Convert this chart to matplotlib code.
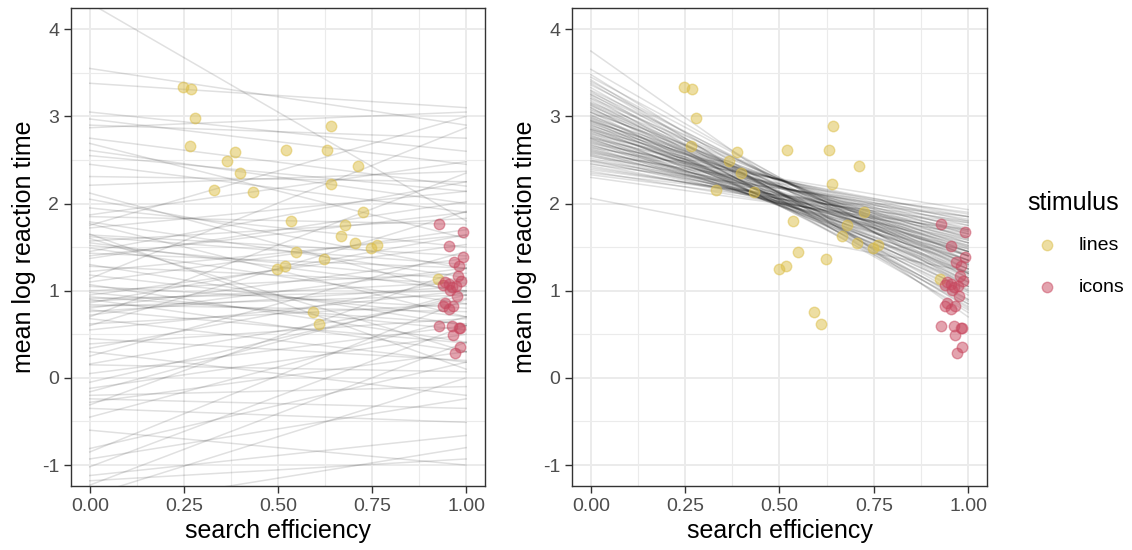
import matplotlib.pyplot as plt
from matplotlib.lines import Line2D

plt.rcParams['font.family'] = ['Liberation Sans', 'DejaVu Sans']

# observed data: search efficiency vs mean log RT
lines_eff = [0.247, 0.269, 0.280, 0.265, 0.365, 0.387, 0.399, 0.331, 0.433, 0.521,
             0.631, 0.642, 0.640, 0.712, 0.725, 0.535, 0.678, 0.667, 0.705, 0.762,
             0.747, 0.549, 0.623, 0.518, 0.498, 0.592, 0.609, 0.926]
lines_rt = [3.34, 3.31, 2.98, 2.66, 2.49, 2.59, 2.35, 2.15, 2.13, 2.61,
            2.61, 2.89, 2.22, 2.43, 1.90, 1.80, 1.75, 1.63, 1.55, 1.53,
            1.49, 1.44, 1.36, 1.28, 1.25, 0.76, 0.62, 1.14]
icons_eff = [0.928, 0.992, 0.954, 0.992, 0.967, 0.981, 0.978, 0.987, 0.945, 0.954,
             0.938, 0.963, 0.972, 0.958, 0.976, 0.944, 0.938, 0.966, 0.954, 0.928,
             0.963, 0.985, 0.981, 0.965, 0.985, 0.970]
icons_rt = [1.76, 1.67, 1.51, 1.39, 1.33, 1.28, 1.17, 1.11, 1.10, 1.08,
            1.07, 1.04, 1.05, 1.01, 0.94, 0.86, 0.82, 0.83, 0.79, 0.60,
            0.59, 0.57, 0.57, 0.49, 0.36, 0.29]

# prior draws: value at efficiency 0 and at efficiency 1
prior_start = [4.30, 3.55, 3.38, 2.97, 2.90, 2.87, 2.69, 2.61, 2.31, 2.21,
               2.12, 1.87, 1.79, 1.77, 1.72, 1.64, 1.60, 1.57, 1.49, 1.43,
               1.37, 1.30, 1.22, 1.14, 1.07, 0.95, 0.91, 0.88, 0.84, 0.80,
               0.76, 0.68, 0.60, 0.39, 0.34, 0.16, 0.15, -0.12, -0.16, -0.24,
               -0.28, -0.31, -0.35, -0.81, -0.93, -1.02, -1.12, -1.18, -1.23, -1.35,
               1.85, 1.55, 1.45, 1.05, 1.00, 0.98, 0.86, 0.82, 0.78, 0.72,
               0.62, 2.55, 2.45, 1.95, 1.65, 1.28, 1.18, 0.45, 0.25, -0.05,
               -0.20, -0.45, -0.60, -0.85, 3.05, 2.75, 1.75, 0.70, 1.10, 0.90,
               1.40, 0.55, 2.05, 1.52, 0.30, 0.05, -1.50, 1.62, 0.93]
prior_end = [1.80, 2.90, 3.10, 2.45, 2.75, 3.05, 1.60, 2.00, 2.25, 2.37,
             0.95, 2.48, 1.15, 0.70, 2.14, 1.40, 0.30, 1.83, 0.85, 1.26,
             2.02, 0.60, 1.64, 2.87, 0.41, 1.53, 1.00, 1.10, 0.76, 1.37,
             1.05, 0.18, 1.91, 0.68, 1.14, 0.91, 0.07, 0.50, 0.99, -0.35,
             0.30, 1.26, -0.51, 0.18, -0.24, 0.60, -0.66, -0.93, 0.41, 0.00,
             1.76, 1.00, 2.25, 0.80, 1.20, 0.55, 1.64, 0.95, 0.40, 1.26,
             0.85, 2.14, 1.90, 1.50, 0.10, 1.08, 0.70, 0.20, 1.45, 0.95,
             -0.10, 0.70, -1.00, 0.90, 2.60, 2.20, 3.00, 2.35, 1.70, 0.30,
             1.90, 1.00, 1.25, 1.12, -0.20, 0.60, -0.80, 1.30, 0.62]

# posterior draws
post_start = [3.75, 3.54, 3.48, 3.45, 3.42, 3.40, 3.38, 3.36, 3.33, 3.30,
              3.29, 3.27, 3.25, 3.23, 3.21, 3.20, 3.18, 3.16, 3.14, 3.13,
              3.12, 3.10, 3.08, 3.07, 3.05, 3.04, 3.02, 3.01, 3.00, 2.99,
              2.98, 2.97, 2.96, 2.95, 2.94, 2.93, 2.92, 2.91, 2.90, 2.89,
              2.88, 2.87, 2.86, 2.85, 2.84, 2.83, 2.82, 2.81, 2.80, 2.79,
              2.78, 2.77, 2.76, 2.75, 2.74, 2.73, 2.72, 2.71, 2.70, 2.69,
              2.68, 2.67, 2.66, 2.65, 2.64, 2.63, 2.62, 2.61, 2.60, 2.59,
              2.58, 2.57, 2.56, 2.55, 2.54, 2.52, 2.50, 2.49, 2.48, 2.46,
              2.45, 2.43, 2.41, 2.39, 2.37, 2.35, 2.33, 2.30, 2.06, 3.05,
              2.95, 3.15, 2.85, 3.10, 2.75, 3.25]
post_end = [0.70, 1.05, 0.80, 1.15, 0.75, 1.10, 0.85, 1.20, 0.90, 1.25,
            0.82, 1.30, 1.00, 0.78, 1.35, 1.05, 0.88, 1.40, 1.10, 0.95,
            1.30, 1.00, 1.45, 1.20, 0.90, 1.50, 1.05, 1.35, 1.25, 0.98,
            1.55, 1.12, 1.40, 1.02, 1.60, 1.20, 1.48, 1.08, 1.32, 1.65,
            1.15, 1.52, 1.28, 1.70, 1.10, 1.42, 1.58, 1.22, 1.75, 1.35,
            1.18, 1.62, 1.45, 1.80, 1.30, 1.55, 1.25, 1.68, 1.40, 1.85,
            1.32, 1.50, 1.72, 1.35, 1.93, 1.45, 1.62, 1.40, 1.78, 1.52,
            1.88, 1.48, 1.66, 1.45, 1.82, 1.60, 1.55, 1.85, 1.70, 1.58,
            1.90, 1.68, 1.75, 1.80, 1.65, 1.85, 1.78, 1.70, 1.22, 1.40,
            1.45, 1.25, 1.35, 0.85, 1.20, 1.15]

yellow = '#DCBE46'
red = '#C8485F'

fig = plt.figure(figsize=(11.32, 5.5), dpi=100)
ax1 = fig.add_axes([0.0627, 0.1164, 0.3657, 0.8685])
ax2 = fig.add_axes([0.5053, 0.1164, 0.3666, 0.8685])

for ax, starts, ends in [(ax1, prior_start, prior_end), (ax2, post_start, post_end)]:
    for a, b in zip(starts, ends):
        ax.plot([0, 1], [a, b], color='black', alpha=0.12, lw=1.1, zorder=2)
    ax.scatter(lines_eff, lines_rt, s=57, color=yellow, alpha=0.5, linewidths=1, zorder=3)
    ax.scatter(icons_eff, icons_rt, s=57, color=red, alpha=0.5, linewidths=1, zorder=3)

    ax.set_xlim(-0.05, 1.05)
    ax.set_ylim(-1.24, 4.24)
    ax.set_xticks([0, 0.25, 0.5, 0.75, 1])
    ax.set_xticklabels(['0.00', '0.25', '0.50', '0.75', '1.00'])
    ax.set_xticks([0.125, 0.375, 0.625, 0.875], minor=True)
    ax.set_yticks([-1, 0, 1, 2, 3, 4])
    ax.set_yticklabels(['-1', '0', '1', '2', '3', '4'])
    ax.set_yticks([-0.5, 0.5, 1.5, 2.5, 3.5], minor=True)
    ax.grid(which='major', color='#EBEBEB', lw=1.4)
    ax.grid(which='minor', color='#EBEBEB', lw=0.8)
    ax.set_axisbelow(True)
    for s in ax.spines.values():
        s.set_color('#333333')
        s.set_linewidth(1.0)
    ax.tick_params(which='major', length=5, width=1, color='#333333',
                   labelcolor='#4D4D4D', labelsize=14, pad=3.5)
    ax.tick_params(which='minor', length=0)
    ax.set_xlabel('search efficiency', fontsize=18, labelpad=3)
    ax.set_ylabel('mean log reaction time', fontsize=18, labelpad=4)

# legend
fig.text(1027 / 1132, 1 - 203 / 550, 'stimulus', fontsize=18, ha='left', va='center')
for lab, col, ypx in [('lines', yellow, 245), ('icons', red, 287)]:
    fig.add_artist(Line2D([1046.5 / 1132], [1 - ypx / 550], marker='o', ms=7.5,
                          color=col, alpha=0.5, mew=1, lw=0,
                          transform=fig.transFigure))
    fig.text(1079 / 1132, 1 - ypx / 550, lab, fontsize=14, ha='left', va='center')

fig.savefig('out.png', dpi=100)
